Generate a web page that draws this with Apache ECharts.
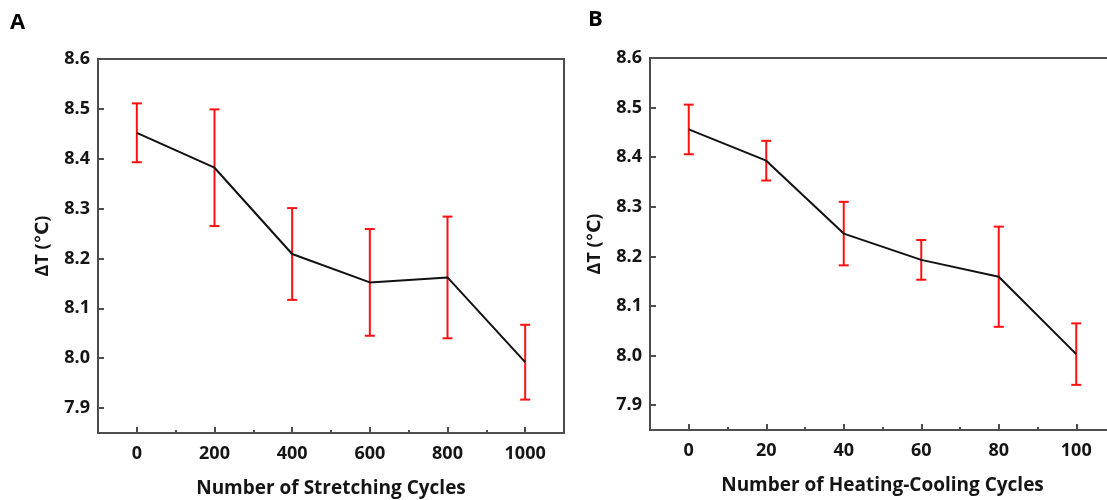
<!DOCTYPE html>
<html>
<head>
<meta charset="utf-8">
<script src="https://cdn.jsdelivr.net/npm/echarts@6/dist/echarts.min.js"></script>
<style>
  html, body { margin: 0; padding: 0; background: #fff; overflow: hidden; width: 1107px; height: 500px; }
  #chart { width: 1107px; height: 500px; }
</style>
</head>
<body>
<div id="chart"></div>
<script>
// Panel A: temperature difference after repeated stretching
const stretchCycles = [0, 200, 400, 600, 800, 1000];
const stretchDeltaT = [8.452, 8.382, 8.209, 8.152, 8.162, 7.992];
const stretchErr    = [0.059, 0.117, 0.092, 0.107, 0.122, 0.075];

// Panel B: temperature difference after repeated heating-cooling
const heatCycles = [0, 20, 40, 60, 80, 100];
const heatDeltaT = [8.456, 8.393, 8.246, 8.193, 8.159, 8.003];
const heatErr    = [0.050, 0.040, 0.064, 0.040, 0.101, 0.062];

// Tick positions
const yTicks       = [7.9, 8.0, 8.1, 8.2, 8.3, 8.4, 8.5, 8.6];
const stretchTicks = [0, 200, 400, 600, 800, 1000];
const stretchMinor = [100, 300, 500, 700, 900];
const heatTicks    = [0, 20, 40, 60, 80, 100];
const heatMinor    = [10, 30, 50, 70, 90];

const FONT = '"Open Sans", "DejaVu Sans", sans-serif';
const AXIS_COLOR = '#4d4d4d';
const TEXT_COLOR = '#151515';

function errorRows(xs, means, errs) {
  return xs.map((x, i) => [x, means[i] + errs[i], means[i] - errs[i]]);
}

function renderErrorBar(params, api) {
  const x = api.value(0);
  const top = api.coord([x, api.value(1)]);
  const bot = api.coord([x, api.value(2)]);
  const half = 5;
  const style = { stroke: '#ff1010', lineWidth: 2 };
  return {
    type: 'group',
    children: [
      { type: 'line', shape: { x1: top[0], y1: top[1], x2: bot[0], y2: bot[1] }, style },
      { type: 'line', shape: { x1: top[0] - half, y1: top[1], x2: top[0] + half, y2: top[1] }, style },
      { type: 'line', shape: { x1: bot[0] - half, y1: bot[1], x2: bot[0] + half, y2: bot[1] }, style }
    ]
  };
}

function mainXAxis(gridIndex, min, max, ticks, name) {
  return {
    type: 'value', gridIndex, min, max, position: 'bottom',
    name, nameLocation: 'middle', nameGap: 46,
    nameTextStyle: { fontFamily: FONT, fontWeight: 'bold', fontSize: 19, color: TEXT_COLOR },
    axisLine: { show: true, onZero: false, lineStyle: { color: AXIS_COLOR, width: 2 } },
    axisTick: { show: true, inside: true, length: 6, customValues: ticks, lineStyle: { color: AXIS_COLOR, width: 2 } },
    axisLabel: {
      customValues: ticks, margin: 12,
      formatter: v => String(v),
      fontFamily: FONT, fontWeight: 'bold', fontSize: 18, color: TEXT_COLOR
    },
    splitLine: { show: false }
  };
}

function minorXAxis(gridIndex, min, max, ticks) {
  return {
    type: 'value', gridIndex, min, max, position: 'bottom',
    axisLine: { show: false, onZero: false },
    axisTick: { show: true, inside: true, length: 3, customValues: ticks, lineStyle: { color: AXIS_COLOR, width: 2 } },
    axisLabel: { show: false },
    splitLine: { show: false }
  };
}

// Plain frame line along the top edge of a plot
function topFrameAxis(gridIndex, min, max) {
  return {
    type: 'value', gridIndex, min, max, position: 'top',
    axisLine: { show: true, onZero: false, lineStyle: { color: AXIS_COLOR, width: 2 } },
    axisTick: { show: false },
    axisLabel: { show: false },
    splitLine: { show: false }
  };
}

function yAxis(gridIndex) {
  return {
    type: 'value', gridIndex, min: 7.85, max: 8.6,
    name: 'ΔT (℃)', nameLocation: 'middle', nameGap: 46,
    nameTextStyle: { fontFamily: FONT, fontWeight: 'bold', fontSize: 18, color: TEXT_COLOR },
    axisLine: { show: true, onZero: false, lineStyle: { color: AXIS_COLOR, width: 2 } },
    axisTick: { show: true, inside: true, length: 6, customValues: yTicks, lineStyle: { color: AXIS_COLOR, width: 2 } },
    axisLabel: {
      customValues: yTicks, margin: 8,
      formatter: v => Number(v).toFixed(1),
      fontFamily: FONT, fontWeight: 'bold', fontSize: 18, color: TEXT_COLOR
    },
    splitLine: { show: false }
  };
}

function meanLine(xAxisIndex, yAxisIndex, xs, ys) {
  return {
    type: 'line', xAxisIndex, yAxisIndex, z: 5,
    data: xs.map((x, i) => [x, ys[i]]),
    symbol: 'none', smooth: false,
    lineStyle: { color: '#111111', width: 2 }
  };
}

function errorSeries(xAxisIndex, yAxisIndex, xs, ys, errs) {
  return {
    type: 'custom', xAxisIndex, yAxisIndex, z: 3,
    renderItem: renderErrorBar,
    encode: { x: 0, y: [1, 2] },
    data: errorRows(xs, ys, errs)
  };
}

const panelLetter = { fontFamily: FONT, fontWeight: 'bold', fontSize: 22, color: '#000' };

// Panel B runs past the right edge of the page, so its right frame is not visible
const heatMin = -10, heatMax = 110;

const chart = echarts.init(document.getElementById('chart'), null, { renderer: 'canvas' });
chart.setOption({
  animation: false,
  backgroundColor: '#ffffff',
  title: [
    { text: 'A', left: 10, top: 12, padding: 0, textStyle: panelLetter },
    { text: 'B', left: 588, top: 9, padding: 0, textStyle: panelLetter }
  ],
  grid: [
    { left: 98, top: 59, width: 466, height: 374, show: true, borderColor: AXIS_COLOR, borderWidth: 2, outerBoundsMode: 'none' },
    { left: 650, top: 58, width: 465, height: 372, show: false, outerBoundsMode: 'none' }
  ],
  xAxis: [
    mainXAxis(0, -100, 1100, stretchTicks, 'Number of Stretching Cycles'),
    minorXAxis(0, -100, 1100, stretchMinor),
    mainXAxis(1, heatMin, heatMax, heatTicks, 'Number of Heating-Cooling Cycles'),
    minorXAxis(1, heatMin, heatMax, heatMinor),
    topFrameAxis(1, heatMin, heatMax)
  ],
  yAxis: [yAxis(0), yAxis(1)],
  series: [
    errorSeries(0, 0, stretchCycles, stretchDeltaT, stretchErr),
    meanLine(0, 0, stretchCycles, stretchDeltaT),
    errorSeries(2, 1, heatCycles, heatDeltaT, heatErr),
    meanLine(2, 1, heatCycles, heatDeltaT)
  ]
});
</script>
</body>
</html>
